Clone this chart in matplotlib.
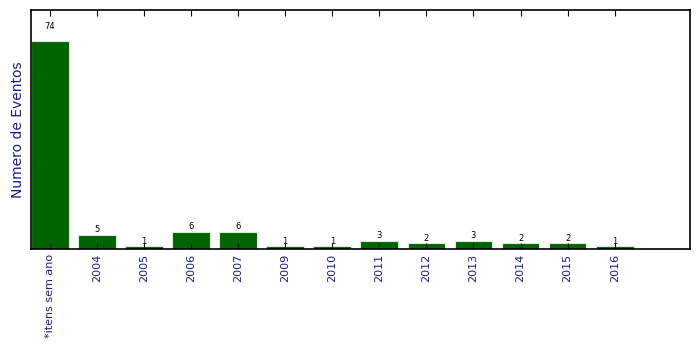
import matplotlib
matplotlib.use("Agg")
import matplotlib.pyplot as plt

categorias = ["*itens sem ano", "2004", "2005", "2006", "2007", "2009", "2010",
              "2011", "2012", "2013", "2014", "2015", "2016"]
eventos = [74, 5, 1, 6, 6, 1, 1, 3, 2, 3, 2, 2, 1]

fig = plt.figure(figsize=(6.99, 3.49), dpi=100)
ax = fig.add_axes([31 / 699, 100 / 349, 659 / 699, 239 / 349])

pos = list(range(len(categorias)))
ax.bar(pos, eventos, width=0.8, color="#006400", edgecolor="#d8ecd8", linewidth=0.8)

for x, v in zip(pos, eventos):
    ax.text(x, v * 1.05, str(v), ha="center", va="bottom", fontsize=6)

ax.set_xlim(-0.4, 13.6)
ax.set_ylim(0, max(eventos) * 1.15)
ax.set_xticks(pos)
ax.set_xticklabels(categorias, rotation=90, fontsize=8, color="#1a1aa0")
ax.set_yticks([])
ax.tick_params(axis="x", direction="in", length=4, top=True, color="black")
for s in ax.spines.values():
    s.set_linewidth(1.2)

ax.set_ylabel("Numero de Eventos", fontsize=10, color="#1a1aa0")

plt.savefig("out.png", dpi=100)
